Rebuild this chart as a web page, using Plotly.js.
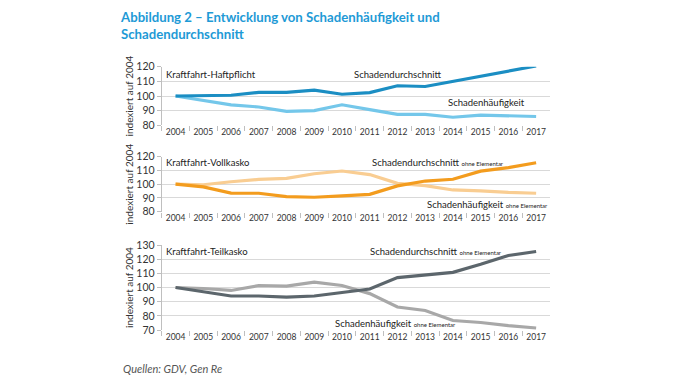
<!DOCTYPE html>
<html><head><meta charset="utf-8">
<script src="https://cdn.plot.ly/plotly-3.0.1.min.js"></script>
<style>html,body{margin:0;padding:0;background:#fff}</style>
</head><body>
<div id="chart" style="width:674px;height:390px"></div>
<script>
const years = ["2004","2005","2006","2007","2008","2009","2010","2011","2012","2013","2014","2015","2016","2017"];
const haftDurchschnitt = [100,100,100.5,102.5,102.5,104,101.2,102.3,107,106.5,110,113,117,120.5];
const haftHaeufigkeit  = [100,97.2,94,92.5,89.5,90,94,90.7,87.5,87.5,85.5,87,86.5,86];
const vollDurchschnitt = [100,98,93.5,93.4,91,90.5,91.5,92.6,98.8,102.3,103.6,109.5,112,115.6];
const vollHaeufigkeit  = [100,99.6,101.8,103.5,104.2,107.6,109.6,107,100.6,99,95.8,95.2,94,93.4];
const teilDurchschnitt = [100,97,94,94,93.2,94,96.4,98.9,107,108.9,110.7,116.4,122.6,125.4];
const teilHaeufigkeit  = [100,99.3,97.9,101.4,101,103.8,101.4,95.7,86.2,83.8,76.7,75.3,73.1,71.4];

const W = 674, H = 390;
const px = v => v / W;
const py = v => 1 - v / H;
const FONT = "Lato, 'Open Sans', sans-serif";
const TXT = "#333333";

function tr(y, color, xa, ya, name) {
  return {x: years, y: y, type: "scatter", mode: "lines", name: name,
    line: {color: color, width: 3.2, shape: "linear"}, xaxis: xa, yaxis: ya,
    hoverinfo: "x+y"};
}
const data = [
  tr(haftHaeufigkeit, "#74c7ea", "x", "y", "Schadenhäufigkeit"),
  tr(haftDurchschnitt, "#1b8ec3", "x", "y", "Schadendurchschnitt"),
  tr(vollHaeufigkeit, "#f9cd92", "x2", "y2", "Schadenhäufigkeit ohne Elementar"),
  tr(vollDurchschnitt, "#f39c1e", "x2", "y2", "Schadendurchschnitt ohne Elementar"),
  tr(teilHaeufigkeit, "#a8a8a8", "x3", "y3", "Schadenhäufigkeit ohne Elementar"),
  tr(teilDurchschnitt, "#5c666c", "x3", "y3", "Schadendurchschnitt ohne Elementar")
];

const xdom = [px(161.7), px(550)];
function xax(anchor) {
  return {domain: xdom, anchor: anchor, type: "category", range: [-0.5, 13.5],
    showgrid: false, showline: false, zeroline: false, tickangle: 0,
    ticks: "outside", tickson: "boundaries", ticklen: 5, tickcolor: "#bfbfbf", tickwidth: 1,
    tickfont: {family: FONT, size: 8.5, color: TXT}, fixedrange: true};
}
function yax(anchor, dom, range, dtick) {
  return {domain: dom, anchor: anchor, range: range, dtick: dtick,
    showgrid: true, gridcolor: "#d9d9d9", gridwidth: 1,
    showline: true, linecolor: "#bfbfbf", linewidth: 1, zeroline: false,
    ticks: "outside", ticklen: 4, tickcolor: "#bfbfbf",
    tickfont: {family: FONT, size: 10.5, color: TXT},
    title: {text: "indexiert auf 2004", font: {family: FONT, size: 10, color: TXT}, standoff: 0},
    fixedrange: true};
}

const small = t => '<span style="font-size:6px">' + t + '</span>';
function ann(text, x, y, anchor) {
  return {text: text, xref: "paper", yref: "paper", x: px(x), y: py(y),
    xanchor: anchor || "left", yanchor: "middle", showarrow: false,
    font: {family: FONT, size: 9.5, color: "#222"}};
}

const layout = {
  width: W, height: H,
  margin: {l: 0, r: 0, t: 0, b: 0},
  paper_bgcolor: "#ffffff", plot_bgcolor: "#ffffff",
  showlegend: false,
  title: {text: "Abbildung 2 – Entwicklung von Schadenhäufigkeit und<br>Schadendurchschnitt",
    x: px(121), xanchor: "left", xref: "paper", y: py(22), yanchor: "top", yref: "container",
    font: {family: FONT, size: 13.2, color: "#1e9ad6", weight: "bold"}},
  xaxis: xax("y"), yaxis: yax("x", [py(125.3), py(66.7)], [80, 120], 10),
  xaxis2: xax("y2"), yaxis2: yax("x2", [py(211.7), py(156.7)], [80, 120], 10),
  xaxis3: xax("y3"), yaxis3: yax("x3", [py(330), py(245)], [70, 130], 10),
  annotations: [
    ann("Kraftfahrt-Haftpflicht", 164, 74),
    ann("Schadendurchschnitt", 352, 74),
    ann("Schadenhäufigkeit", 446, 103),
    ann("Kraftfahrt-Vollkasko", 164, 162),
    ann("Schadendurchschnitt " + small("ohne Elementar"), 370, 162),
    ann("Schadenhäufigkeit " + small("ohne Elementar"), 425, 204),
    ann("Kraftfahrt-Teilkasko", 164, 251),
    ann("Schadendurchschnitt " + small("ohne Elementar"), 368, 251),
    ann("Schadenhäufigkeit " + small("ohne Elementar"), 333, 323),
    {text: "<i>Quellen: GDV, Gen Re</i>", xref: "paper", yref: "paper", x: px(121), y: py(368),
      xanchor: "left", yanchor: "middle", showarrow: false,
      font: {family: FONT, size: 11, color: "#555555"}}
  ]
};
Plotly.newPlot("chart", data, layout, {displayModeBar: false, staticPlot: true});
</script>
</body></html>
